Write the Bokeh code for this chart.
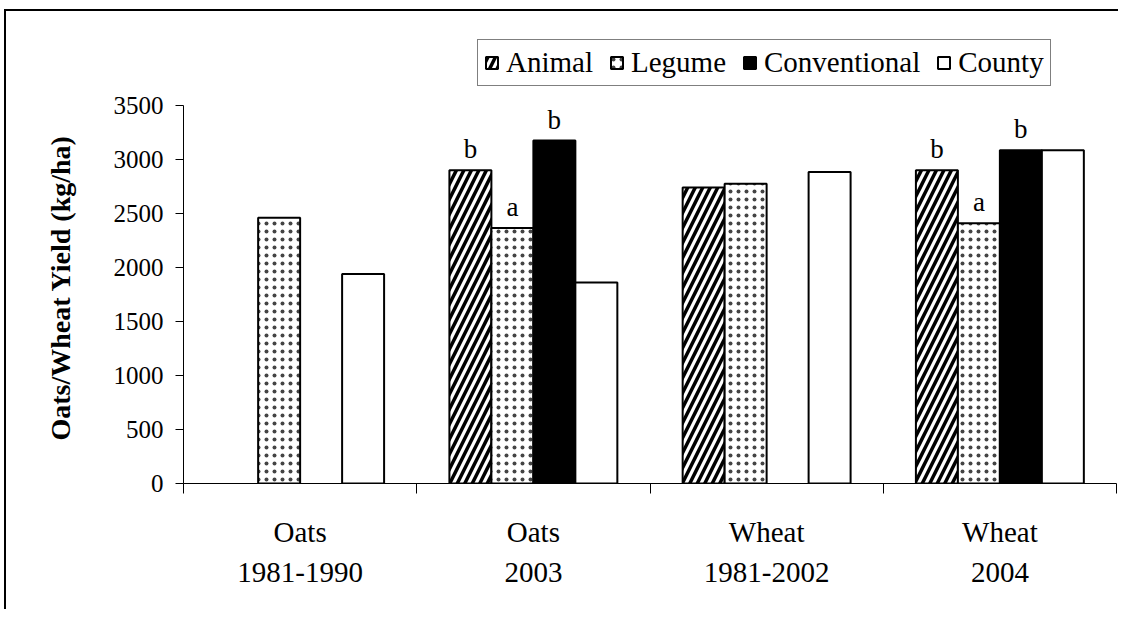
from bokeh.plotting import figure
from bokeh.models import (ColumnDataSource, Range1d, FixedTicker, Legend, LegendItem,
                          LinearAxis, Title)
from bokeh.embed import file_html
from bokeh.resources import INLINE
from bokeh.core.properties import value

# ---------------- data ----------------
groups = ["Oats\n1981-1990", "Oats\n2003", "Wheat\n1981-2002", "Wheat\n2004"]
series = ["Animal", "Legume", "Conventional", "County"]
animal = [None, 2900, 2740, 2900]
legume = [2460, 2365, 2775, 2410]
conventional = [None, 3175, None, 3085]
county = [1940, 1860, 2885, 3085]
animal_sig = ["", "b", "", "b"]
legume_sig = ["", "a", "", "a"]
conventional_sig = ["", "b", "", "b"]
y_ticks = [0, 500, 1000, 1500, 2000, 2500, 3000, 3500]
y_title = "Oats/Wheat Yield (kg/ha)"

FONT = "Liberation Serif"
BAR_W = 0.18
offsets = [-1.5 * BAR_W, -0.5 * BAR_W, 0.5 * BAR_W, 1.5 * BAR_W]

p = figure(width=1114, height=600, output_backend="svg", toolbar_location=None,
           x_range=Range1d(0, len(groups)), y_range=Range1d(0, 4287),
           min_border_left=177, min_border_right=4, min_border_top=9,
           min_border_bottom=128, x_axis_type=None, y_axis_type=None)
p.outline_line_color = None
p.xgrid.visible = False
p.ygrid.visible = False
p.styles = {"border-top": "2px solid black", "border-left": "2px solid black",
            "margin-left": "4px", "margin-top": "9px"}

styles = [
    dict(fill_color="white", hatch_pattern="right_diagonal_line", hatch_color="black",
         hatch_scale=15, hatch_weight=3.5),
    dict(fill_color="white", hatch_pattern="dot", hatch_color="#444444",
         hatch_scale=8, hatch_weight=1),
    dict(fill_color="black"),
    dict(fill_color="white"),
]
vals = [animal, legume, conventional, county]
sigs = [animal_sig, legume_sig, conventional_sig, [""] * 4]

items = []
for s, v, st, off, sg in zip(series, vals, styles, offsets, sigs):
    xs, ys, ls = [], [], []
    for i, val in enumerate(v):
        if val is not None:
            xs.append(i + 0.5 + off)
            ys.append(val)
            ls.append(sg[i])
    src = ColumnDataSource(dict(x=xs, top=ys, lab=ls))
    r = p.vbar(x="x", top="top", width=BAR_W, bottom=0, source=src,
               line_color="black", line_width=2, **st)
    items.append(LegendItem(label=s, renderers=[r]))
    p.text(x="x", y="top", text="lab", source=src, text_align="center",
           text_baseline="bottom", y_offset=-6, text_font=value(FONT),
           text_font_size="27px", text_color="black")

# y axis
ya = LinearAxis(ticker=FixedTicker(ticks=y_ticks), bounds=(0, 3500))
ya.major_label_text_font = FONT
ya.major_label_text_font_size = "25px"
ya.major_label_text_color = "black"
ya.major_label_standoff = 12
ya.major_tick_out = 8
ya.major_tick_in = 0
ya.minor_tick_line_color = None
ya.axis_line_color = "black"
ya.major_tick_line_color = "black"
p.add_layout(ya, "left")

# y title, placed along the axis extent
yt = Title(text=y_title, align="left", offset=43, standoff=70,
           text_font=FONT, text_font_style="bold", text_font_size="28px",
           text_color="black")
p.add_layout(yt, "left")

# x axis
xa = LinearAxis(ticker=FixedTicker(ticks=[i + 0.5 for i in range(len(groups))],
                                   minor_ticks=list(range(len(groups) + 1))))
xa.major_label_overrides = {i + 0.5: g for i, g in enumerate(groups)}
xa.major_label_text_font = FONT
xa.major_label_text_font_size = "29px"
xa.major_label_text_color = "black"
xa.major_label_text_line_height = 1.25
xa.major_label_standoff = 22
xa.major_tick_line_color = None
xa.minor_tick_out = 10
xa.minor_tick_in = 0
xa.minor_tick_line_color = "black"
xa.axis_line_color = "black"
p.add_layout(xa, "below")

legend = Legend(items=items, orientation="horizontal", location=(294, 397))
legend.label_text_font = FONT
legend.label_text_font_size = "29px"
legend.label_text_color = "black"
legend.glyph_width = 15
legend.glyph_height = 15
legend.label_standoff = 7
legend.spacing = 16
legend.padding = 6
legend.margin = 0
legend.border_line_color = "black"
legend.border_line_width = 1
legend.background_fill_alpha = 1
p.add_layout(legend, "center")

open("out.html", "w").write(file_html(p, INLINE))
